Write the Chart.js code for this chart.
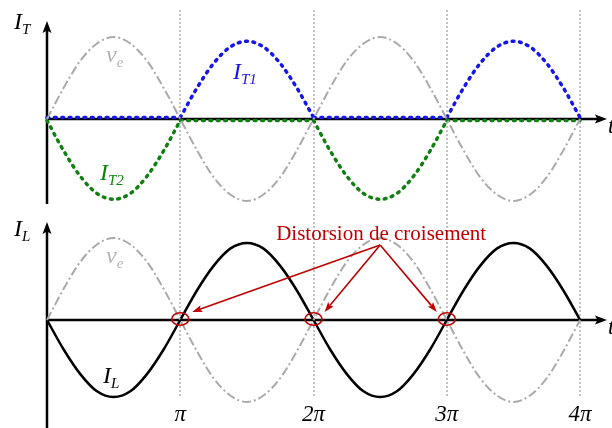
<!DOCTYPE html>
<html><head><meta charset="utf-8">
<script src="https://cdn.jsdelivr.net/npm/chart.js@4"></script>
<style>html,body{margin:0;padding:0;background:#fff}canvas{display:block}</style>
</head><body>
<canvas id="c" width="612" height="428"></canvas>
<script>
// phase positions in units of pi
const phase = [0,0.125,0.25,0.375,0.5,0.625,0.75,0.875,1,1.125,1.25,1.375,1.5,1.625,1.75,1.875,2,
  2.125,2.25,2.375,2.5,2.625,2.75,2.875,3,3.125,3.25,3.375,3.5,3.625,3.75,3.875,4];
const veTop = [0,0.38,0.71,0.92,1,0.92,0.71,0.38,0,-0.38,-0.71,-0.92,-1,-0.92,-0.71,-0.38,0,
  0.38,0.71,0.92,1,0.92,0.71,0.38,0,-0.38,-0.71,-0.92,-1,-0.92,-0.71,-0.38,0];
const iT1 = [0,0,0,0,0,0,0,0,0,0.36,0.66,0.86,0.93,0.86,0.66,0.36,0,
  0,0,0,0,0,0,0,0,0.36,0.66,0.86,0.93,0.86,0.66,0.36,0];
const iT2 = [0,-0.37,-0.68,-0.89,-0.96,-0.89,-0.68,-0.37,0,0,0,0,0,0,0,0,0,
  -0.37,-0.68,-0.89,-0.96,-0.89,-0.68,-0.37,0,0,0,0,0,0,0,0,0];
const veBot = [0,0.38,0.71,0.92,1,0.92,0.71,0.38,0,-0.38,-0.71,-0.92,-1,-0.92,-0.71,-0.38,0,
  0.38,0.71,0.92,1,0.92,0.71,0.38,0,-0.38,-0.71,-0.92,-1,-0.92,-0.71,-0.38,0];
const iL = [0,-0.36,-0.66,-0.87,-0.94,-0.87,-0.66,-0.36,0,0.36,0.66,0.87,0.94,0.87,0.66,0.36,0,
  -0.36,-0.66,-0.87,-0.94,-0.87,-0.66,-0.36,0,0.36,0.66,0.87,0.94,0.87,0.66,0.36,0];
const tickMultiples = [1,2,3,4];
const tickLabels = ['π','2π','3π','4π'];
const crossings = [1,2,3];
const noteText = 'Distorsion de croisement';

const PI = Math.PI;
const pts = arr => arr.map((v,i)=>({x: phase[i]*PI, y: v}));
// split a half-wave series into its conducting arcs and its flat (blocked) parts
const arcs = arr => arr.map((v,i)=>{
  const active = v !== 0 || (i>0 && arr[i-1] !== 0) || (i<arr.length-1 && arr[i+1] !== 0);
  return {x: phase[i]*PI, y: active ? v : null};
});
const flats = arr => arr.map((v,i)=>{
  const flat = v === 0 && ((i>0 && arr[i-1] === 0) || (i<arr.length-1 && arr[i+1] === 0));
  return {x: phase[i]*PI, y: flat ? 0 : null};
});

const SERIF = '"Liberation Serif","Times New Roman",serif';

function arrowHead(ctx, x, y, ang, len, wid, color){
  ctx.save();
  ctx.fillStyle = color;
  ctx.translate(x,y); ctx.rotate(ang);
  ctx.beginPath();
  ctx.moveTo(0,0); ctx.lineTo(-len, -wid/2); ctx.lineTo(-len*0.8,0); ctx.lineTo(-len, wid/2);
  ctx.closePath(); ctx.fill();
  ctx.restore();
}
function subLabel(ctx, main, sub, x, base, color, size, subSize){
  ctx.save();
  ctx.fillStyle = color;
  ctx.textBaseline = 'alphabetic'; ctx.textAlign='left';
  ctx.font = 'italic ' + size + 'px ' + SERIF;
  ctx.fillText(main, x, base);
  const w = ctx.measureText(main).width;
  ctx.font = 'italic ' + subSize + 'px ' + SERIF;
  ctx.fillText(sub, x + w, base + 5);
  ctx.restore();
}

const decor = {
  id:'decor',
  beforeDatasetsDraw(chart){
    const ctx = chart.ctx, xs = chart.scales.x, yt = chart.scales.yTop, yb = chart.scales.yBot;
    ctx.save();
    ctx.strokeStyle = '#c4c4c4'; ctx.lineWidth = 2; ctx.setLineDash([2,2]);
    tickMultiples.forEach(m=>{
      const px = Math.round(xs.getPixelForValue(m*PI));
      ctx.beginPath(); ctx.moveTo(px, 10); ctx.lineTo(px, 398); ctx.stroke();
    });
    ctx.restore();
    const x0 = xs.getPixelForValue(0);
    ctx.save();
    ctx.strokeStyle = '#000'; ctx.lineWidth = 2.5;
    const yt0 = yt.getPixelForValue(0), yb0 = yb.getPixelForValue(0);
    ctx.beginPath();
    ctx.moveTo(x0, 204); ctx.lineTo(x0, 30);
    ctx.moveTo(x0, 428); ctx.lineTo(x0, 230);
    ctx.moveTo(x0, yt0); ctx.lineTo(598, yt0);
    ctx.moveTo(x0, yb0); ctx.lineTo(598, yb0);
    ctx.stroke();
    ctx.restore();
    arrowHead(ctx, x0, 21, -PI/2, 12, 9, '#000');
    arrowHead(ctx, x0, 222, -PI/2, 12, 9, '#000');
    arrowHead(ctx, 607, yt0, 0, 12, 9, '#000');
    arrowHead(ctx, 607, yb0, 0, 12, 9, '#000');
  },
  afterDatasetsDraw(chart){
    const ctx = chart.ctx, xs = chart.scales.x, yt = chart.scales.yTop, yb = chart.scales.yBot;
    const yt0 = yt.getPixelForValue(0), yb0 = yb.getPixelForValue(0);
    ctx.save();
    ctx.fillStyle = '#000'; ctx.font = 'italic 23px ' + SERIF;
    ctx.textAlign = 'center'; ctx.textBaseline = 'alphabetic';
    tickMultiples.forEach((m,i)=>{
      ctx.fillText(tickLabels[i], xs.getPixelForValue(m*PI), 421);
    });
    ctx.textAlign='left';
    ctx.fillText('t', 608, yt0 + 14);
    ctx.fillText('t', 608, yb0 + 14);
    ctx.restore();
    subLabel(ctx, 'I', 'T', 14, 29, '#000', 24, 15);
    subLabel(ctx, 'I', 'L', 14, 236, '#000', 24, 15);
    subLabel(ctx, 'v', 'e', 106, 62, '#b4b4b4', 24, 15);
    subLabel(ctx, 'v', 'e', 106, 263, '#b4b4b4', 24, 15);
    subLabel(ctx, 'I', 'T1', 233, 79, '#1515ee', 24, 15);
    subLabel(ctx, 'I', 'T2', 100, 180, '#108010', 24, 15);
    subLabel(ctx, 'I', 'L', 103, 383, '#000', 24, 15);
    const red = '#c00000';
    ctx.save();
    ctx.fillStyle = red; ctx.font = '21px ' + SERIF;
    ctx.textAlign='center'; ctx.textBaseline='alphabetic';
    const ox = xs.getPixelForValue(2.5*PI), oy = yb.getPixelForValue(0.915);
    ctx.fillText(noteText, ox + 1, 240);
    ctx.strokeStyle = red; ctx.lineWidth = 1.6;
    const offs = [[12,-8],[11,-8],[-10,-8]];
    crossings.forEach((m,i)=>{
      const cx = xs.getPixelForValue(m*PI), cy = yb0;
      ctx.beginPath(); ctx.ellipse(cx, cy - 1, 8.5, 6.2, 0, 0, 2*PI); ctx.stroke();
      const tx = cx + offs[i][0], ty = cy + offs[i][1];
      const ang = Math.atan2(ty - oy, tx - ox);
      ctx.beginPath(); ctx.moveTo(ox, oy);
      ctx.lineTo(tx - Math.cos(ang)*8, ty - Math.sin(ang)*8); ctx.stroke();
      arrowHead(ctx, tx, ty, ang, 10, 7, red);
    });
    ctx.restore();
  }
};

const base = {pointRadius:0, fill:false, cubicInterpolationMode:'monotone', spanGaps:false};
const dotted = (data, axis, color) => Object.assign({}, base, {data, yAxisID:axis, borderColor:color, borderWidth:3.5, borderDash:[1.8,5.6], borderCapStyle:'round'});
new Chart(document.getElementById('c'), {
  type:'line',
  data:{datasets:[
    Object.assign({}, base, {data: pts(veTop), yAxisID:'yTop', borderColor:'#aaaaaa', borderWidth:2, borderDash:[9,3,2,3]}),
    Object.assign({}, base, {data: pts(veBot), yAxisID:'yBot', borderColor:'#aaaaaa', borderWidth:2, borderDash:[9,3,2,3]}),
    dotted(flats(iT2), 'yT2', '#108010'),
    dotted(arcs(iT2), 'yT2', '#108010'),
    dotted(flats(iT1), 'yT1', '#1515ee'),
    dotted(arcs(iT1), 'yT1', '#1515ee'),
    Object.assign({}, base, {data: pts(iL), yAxisID:'yBot', borderColor:'#000', borderWidth:2.5})
  ]},
  options:{
    responsive:false, animation:false, devicePixelRatio:1,
    layout:{padding:0},
    plugins:{legend:{display:false}, tooltip:{enabled:false}},
    scales:{
      x:{type:'linear', min:-1.108, max:13.319, display:false},
      yTop:{type:'linear', min:-3.768, max:1.451, display:false},
      yT1:{type:'linear', min:-3.786, max:1.433, display:false},
      yT2:{type:'linear', min:-3.750, max:1.469, display:false},
      yBot:{type:'linear', min:-1.317, max:3.902, display:false}
    }
  },
  plugins:[decor]
});
</script>
</body></html>
